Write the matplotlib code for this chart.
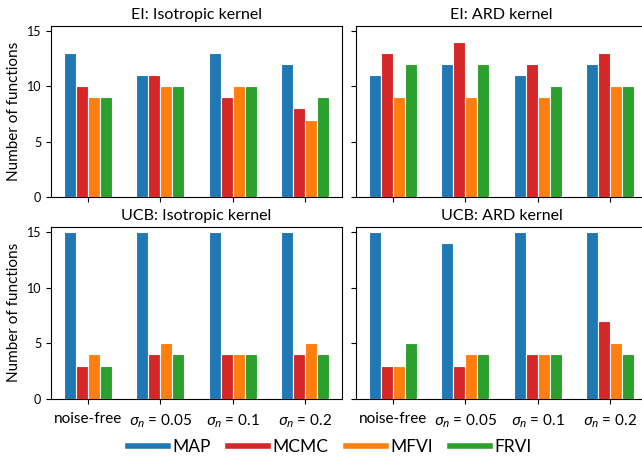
import numpy as np
import matplotlib
matplotlib.use("Agg")
from matplotlib import pyplot as plt
from matplotlib.lines import Line2D

plt.rcParams['font.family'] = ['Lato', 'DejaVu Sans']
plt.rcParams['font.size'] = 10.5
plt.rcParams['mathtext.fontset'] = 'custom'
plt.rcParams['mathtext.rm'] = 'Lato'
plt.rcParams['mathtext.it'] = 'Noto Sans:italic'

groups = ['noise-free', r'$\sigma_n$ = 0.05', r'$\sigma_n$ = 0.1', r'$\sigma_n$ = 0.2']
methods = ['MAP', 'MCMC', 'MFVI', 'FRVI']
colors = ['#1f77b4', '#d62728', '#ff7f0e', '#2ca02c']
titles = ['EI: Isotropic kernel', 'EI: ARD kernel',
          'UCB: Isotropic kernel', 'UCB: ARD kernel']

# rows = methods, cols = noise levels
ei_iso = [[13, 11, 13, 12],
          [10, 11, 9, 8],
          [9, 10, 10, 7],
          [9, 10, 10, 9]]
ei_ard = [[11, 12, 11, 12],
          [13, 14, 12, 13],
          [9, 9, 9, 10],
          [12, 12, 10, 10]]
ucb_iso = [[15, 15, 15, 15],
           [3, 4, 4, 4],
           [4, 5, 4, 5],
           [3, 4, 4, 4]]
ucb_ard = [[15, 14, 15, 15],
           [3, 3, 4, 7],
           [3, 4, 4, 5],
           [5, 4, 4, 4]]
panels = [ei_iso, ei_ard, ucb_iso, ucb_ard]

W, H = 642, 459
fig = plt.figure(figsize=(W / 100, H / 100), dpi=100)

# axes boxes in pixels: left, top, right, bottom
boxes = [(51, 25.5, 342, 197), (356, 25.5, 647, 197),
         (51, 226.5, 342, 399), (356, 226.5, 647, 399)]

x = np.arange(len(groups))
width = 1 / 6
for k, (data, title, b) in enumerate(zip(panels, titles, boxes)):
    l, t, r, bt = b
    ax = fig.add_axes([l / W, 1 - bt / H, (r - l) / W, (bt - t) / H])
    for i, (m, c) in enumerate(zip(methods, colors)):
        ax.bar(x + (i - 1.5) * width, data[i], width, color=c,
               edgecolor='white', linewidth=0.8, label=m)
    ax.set_ylim(0, 15.5)
    ax.set_yticks([0, 5, 10, 15])
    ax.set_xticks(x)
    ax.set_title(title, fontsize=11.5, pad=5)
    if k < 2:
        ax.set_xticklabels([])
    else:
        ax.set_xticklabels(groups, fontsize=11)
    if k % 2 == 1:
        ax.set_yticklabels([])
    else:
        ax.set_ylabel('Number of functions', fontsize=11)
    ax.tick_params(labelsize=9)
    if k >= 2:
        ax.tick_params(axis='x', labelsize=11, pad=6)

handles = [Line2D([], [], color=c, lw=4) for c in colors]
fig.legend(handles, methods, loc='center', bbox_to_anchor=(0.514, 0.026),
           ncol=4, frameon=False, fontsize=12.5, handlelength=2.3,
           columnspacing=1.0, handletextpad=0.25)

fig.savefig('out.png', dpi=100)
